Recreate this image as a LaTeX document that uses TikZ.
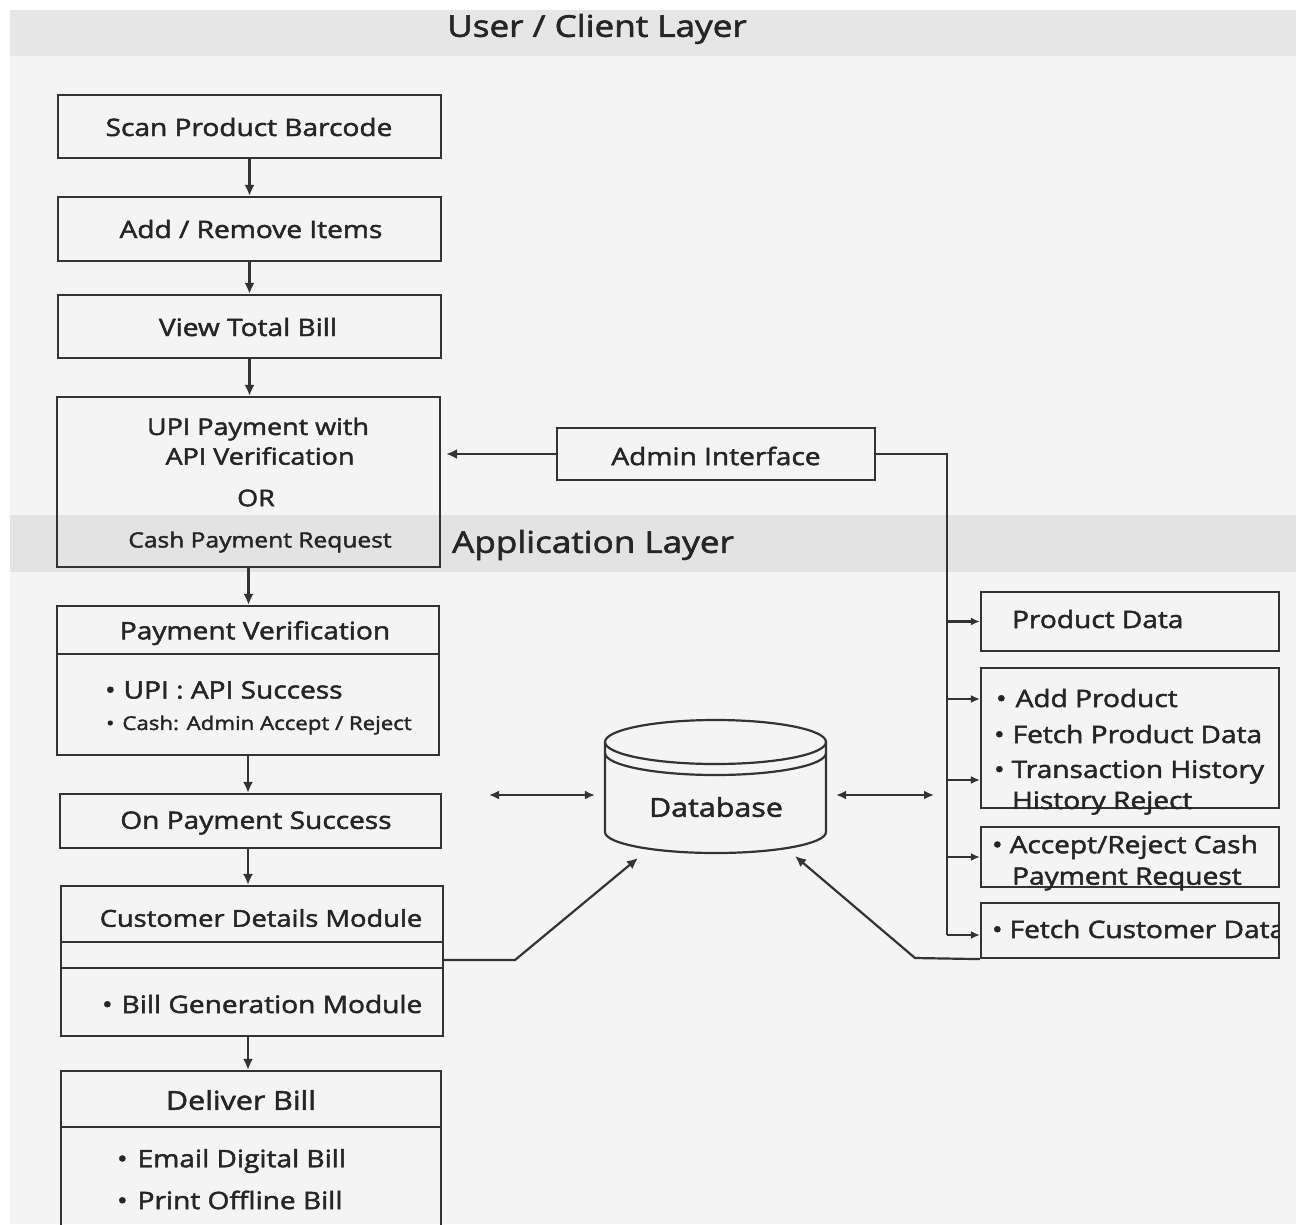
\documentclass[tikz,border=0pt]{standalone}
\usepackage{fontspec}
\setmainfont{Open Sans}[FakeStretch=1.17,RawFeature={embolden=2}]
\usetikzlibrary{arrows.meta,calc}
\definecolor{lc}{HTML}{333333}
\definecolor{tc}{HTML}{252525}
\definecolor{bgc}{HTML}{F4F4F4}
\definecolor{hband}{HTML}{E6E6E6}
\definecolor{aband}{HTML}{E3E3E3}
\begin{document}
\begin{tikzpicture}[x=1pt,y=-1pt,line width=2.2pt,
  box/.style={draw=lc,line width=2.2pt,inner sep=0pt},
  lbl/.style={text=tc,inner sep=0pt,font=\fontsize{24}{29}\selectfont},
  lblm/.style={text=tc,inner sep=0pt,font=\fontsize{23}{27}\selectfont},
  lbls/.style={text=tc,inner sep=0pt,font=\fontsize{19}{23}\selectfont},
  lblb/.style={text=tc,inner sep=0pt,font=\fontsize{30}{35}\selectfont},
  arr/.style={draw=lc,line width=2.2pt,-{Latex[length=11pt,width=10pt]}},
  sarr/.style={draw=lc,line width=2.2pt,-{Latex[length=9pt,width=8pt]}},
  darr/.style={draw=lc,line width=2.2pt,{Latex[length=10pt,width=9pt]}-{Latex[length=10pt,width=9pt]}},
  ln/.style={draw=lc,line width=2.2pt}]
\useasboundingbox (0,0) rectangle (1296,1224);
\clip (0,0) rectangle (1296,1224);
% backgrounds
\fill[white] (0,0) rectangle (1296,1224);
\fill[bgc] (10,10) rectangle (1296,1224);
\fill[hband] (10,10) rectangle (1296,56);
\fill[aband] (10,515) rectangle (1296,572);
\node[lblb] (hdr) at (597,29) {User / Client Layer};
\node[lblb,anchor=west] (app) at (451,545) {Application Layer};

% left column
\node[box,minimum width=383pt,minimum height=63pt] (scan) at (249.5,126.5) {};
\node[lbl] (scant) at (249,127) {Scan Product Barcode};
\node[box,minimum width=383pt,minimum height=64pt] (add) at (249.5,229) {};
\node[lbl] (addt) at (251,229) {Add / Remove Items};
\node[box,minimum width=383pt,minimum height=63pt] (view) at (249.5,326.5) {};
\node[lbl] (viewt) at (248,327) {View Total Bill};
\node[box,minimum width=383pt,minimum height=170pt] (upi) at (248.5,482) {};
\node[lblm] (upi1) at (258,429) {UPI Payment with};
\node[lblm] (upi2) at (260,456) {API Verification};
\node[lblm] (upi3) at (256,498) {OR};
\node[lblm,font=\fontsize{21}{25}\selectfont] (upi4) at (260,542) {Cash Payment Request};

\node[box,minimum width=382pt,minimum height=149pt] (pv) at (248,680.5) {};
\draw[ln] (pv.west |- 0,654) -- (pv.east |- 0,654);
\node[lbl] (pvt) at (255,633) {Payment Verification};
\node[lbl,anchor=west] (pv1) at (104,690) {•\hspace{8pt}UPI : API Success};
\node[lbls,anchor=west] (pv2) at (105,725) {•\hspace{8pt}Cash: Admin Accept / Reject};

\node[box,minimum width=381pt,minimum height=54pt] (ops) at (250.5,821) {};
\node[lbl] (opst) at (256,823) {On Payment Success};

\node[box,minimum width=382pt,minimum height=150pt] (cdm) at (252,961) {};
\draw[ln] (cdm.west |- 0,942) -- (cdm.east |- 0,942);
\draw[ln] (cdm.west |- 0,968) -- (cdm.east |- 0,968);
\node[lbl,font=\fontsize{23.3}{28}\selectfont] (cdmt) at (261,918) {Customer Details Module};
\node[lbl,anchor=west] (cdm1) at (101,1004) {•\hspace{9pt}Bill Generation Module};

\node[box,minimum width=380pt,minimum height=179pt] (dlv) at (251,1160.5) {};
\draw[ln] (dlv.west |- 0,1127) -- (dlv.east |- 0,1127);
\node[lbl,font=\fontsize{26}{31}\selectfont] (dlvt) at (241,1100) {Deliver Bill};
\node[lbl,anchor=west] (dlv1) at (116,1161) {•\hspace{10pt}Email Digital Bill};
\node[lbl,anchor=west] (dlv2) at (116,1200) {•\hspace{10pt}Print Offline Bill};

% vertical arrows
\draw[arr] (scan.south) -- (scan.south |- add.north);
\draw[arr] (add.south) -- (add.south |- view.north);
\draw[arr] (view.south) -- (view.south |- upi.north);
\draw[arr] (upi.south) -- (upi.south |- pv.north);
\draw[arr] (pv.south) -- (pv.south |- ops.north);
\draw[arr] (pv.south |- ops.south) -- (pv.south |- cdm.north);
\draw[arr] (pv.south |- cdm.south) -- (pv.south |- dlv.north);

% admin
\node[box,minimum width=318pt,minimum height=52pt] (admin) at (716,454) {};
\node[lbl] (admint) at (716,456) {Admin Interface};
\draw[arr,shorten >=5pt] (admin.west) -- (upi.east |- admin.west);

% right boxes
\node[box,minimum width=298pt,minimum height=59pt] (pd) at (1130,621.5) {};
\node[lbl,anchor=west] (pdt) at (1011,619) {Product Data};
\node[box,minimum width=298pt,minimum height=140pt] (aops) at (1130,738) {};
\node[lbl,anchor=west] (ao1) at (995,698) {•\hspace{9pt}Add Product};
\node[lbl,anchor=west] (ao2) at (993,734) {•\hspace{8pt}Fetch Product Data};
\node[lbl,anchor=west] (ao3) at (993,772) {•\hspace{7pt}Transaction History};
\node[lbl,anchor=west] (ao4) at (1011,803) {History Reject};
\node[box,minimum width=298pt,minimum height=60pt] (acc) at (1130,857) {};
\node[lbl,anchor=west] (ac1) at (991,847) {•\hspace{7pt}Accept/Reject Cash};
\node[lbl,anchor=west] (ac2) at (1011,879) {Payment Request};
\node[box,minimum width=298pt,minimum height=55pt] (fcd) at (1130,930.5) {};
\begin{scope}
\clip (0,900) rectangle (1279,960);
\node[lbl,anchor=west] (fc1) at (991,929) {•\hspace{7pt}Fetch Customer Data};
\end{scope}

% admin trunk
\coordinate (trk) at (947,935);
\coordinate (b1) at (947,699);
\coordinate (b2) at (947,780);
\draw[ln] (admin.east) -| (trk);
\draw[sarr] (pd.west -| trk) -- (pd.west);
\draw[sarr] (b1) -- (b1 -| aops.west);
\draw[sarr] (b2) -- (b2 -| aops.west);
\draw[sarr] (acc.west -| trk) -- (acc.west);
\draw[sarr] (trk) -- (trk -| fcd.west);

% database
\node[minimum width=221pt,minimum height=133pt,inner sep=0pt] (db) at (715.5,786.5) {};
\draw[ln] (715.5,742) ellipse[x radius=110.5,y radius=22];
\draw[ln] (605,753) arc[start angle=180,end angle=0,x radius=110.5,y radius=22];
\draw[ln] (605,742) -- (605,832) arc[start angle=180,end angle=0,x radius=110.5,y radius=21] -- (826,742);
\node[lbl,font=\fontsize{26}{31}\selectfont] (dbt) at (716,807) {Database};

\coordinate (dl) at (489,795);
\coordinate (dr) at (934,795);
\draw[darr,shorten >=9pt] (dl) -- (dl -| db.west);
\draw[darr,shorten <=9pt] (dr -| db.east) -- (dr);

\coordinate (cj) at (515,960);
\coordinate (ct) at (638,858);
\draw[arr] (cdm.east |- cj) -- (cj) -- (ct);
\coordinate (fj) at (915,958);
\coordinate (ft) at (795,856);
\draw[arr] (fcd.south west) -- (fj) -- (ft);
\end{tikzpicture}
\end{document}
